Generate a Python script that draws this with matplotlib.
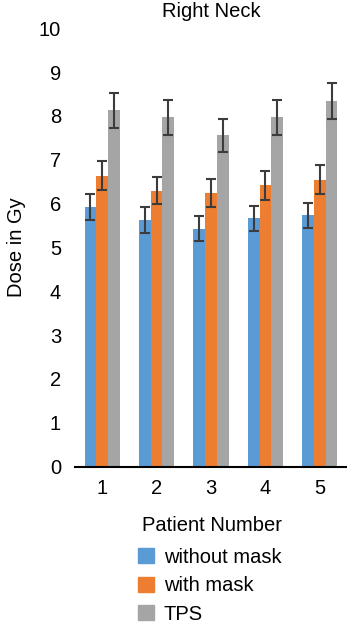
import numpy as np
import matplotlib.pyplot as plt
from matplotlib.patches import Patch

plt.rcParams['font.family'] = ['Liberation Sans', 'DejaVu Sans']

# Data
patients = ['1', '2', '3', '4', '5']
without_mask = [5.92, 5.63, 5.43, 5.66, 5.73]
without_mask_err = [0.30, 0.29, 0.28, 0.29, 0.29]
with_mask = [6.63, 6.29, 6.24, 6.42, 6.54]
with_mask_err = [0.33, 0.31, 0.31, 0.33, 0.33]
tps = [8.13, 7.97, 7.56, 7.97, 8.33]
tps_err = [0.40, 0.40, 0.38, 0.40, 0.41]

series = [
    ('without mask', without_mask, without_mask_err, '#5B9BD5'),
    ('with mask', with_mask, with_mask_err, '#ED7D31'),
    ('TPS', tps, tps_err, '#A5A5A5'),
]

fs = 14.5

fig = plt.figure(figsize=(3.47, 6.26), dpi=100)
ax = fig.add_axes([0.216, 0.2545, 0.784, 0.7005])

x = np.arange(1, len(patients) + 1)
w = 0.216
for i, (name, vals, errs, col) in enumerate(series):
    ax.bar(x + (i - 1) * w, vals, w, color=col, label=name,
           yerr=errs, capsize=3.8,
           error_kw=dict(ecolor='#3c3c3c', elinewidth=1.5, capthick=1.5))

ax.set_xlim(0.5, 5.5)
ax.set_ylim(0, 10)
ax.set_yticks(range(0, 11))
ax.set_xticks(x)
ax.set_xticklabels(patients)
ax.tick_params(axis='both', length=0, labelsize=fs)
ax.tick_params(axis='y', pad=10)
ax.tick_params(axis='x', pad=9)
for s in ['left', 'right', 'top']:
    ax.spines[s].set_visible(False)
ax.spines['bottom'].set_linewidth(1.5)

ax.set_title('Right Neck', fontsize=fs, pad=8, x=0.5)
ax.set_ylabel('Dose in Gy', fontsize=fs, labelpad=9)
fig.text(0.61, 0.161, 'Patient Number', fontsize=fs, ha='center', va='center')

handles = [Patch(color=c) for _, _, _, c in series]
fig.legend(handles, [s[0] for s in series], loc='upper left',
           bbox_to_anchor=(0.37, 0.141), frameon=False, fontsize=fs,
           handlelength=0.75, handleheight=0.75, handletextpad=0.5,
           labelspacing=0.47, borderpad=0)

fig.savefig('out.png', dpi=100)
